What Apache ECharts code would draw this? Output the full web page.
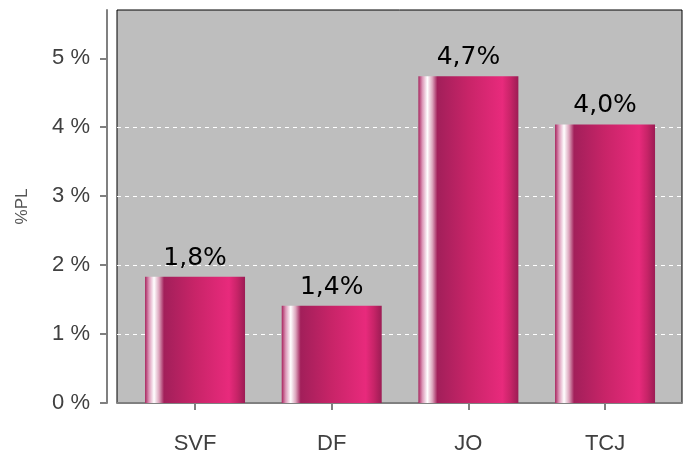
<!DOCTYPE html>
<html>
<head>
<meta charset="utf-8">
<script src="https://cdn.jsdelivr.net/npm/echarts@6/dist/echarts.min.js"></script>
<style>
  html, body { margin: 0; padding: 0; background: #fff; }
  #chart { width: 691px; height: 455px; }
</style>
</head>
<body>
<div id="chart"></div>
<script>
var categories = ['SVF', 'DF', 'JO', 'TCJ'];
var values = [1.83, 1.41, 4.74, 4.04];
var yTicks = [0, 1, 2, 3, 4, 5];

var chart = echarts.init(document.getElementById('chart'), null, { renderer: 'canvas' });

// horizontal shading: white highlight on the left, bright pink on the right
var barColor = new echarts.graphic.LinearGradient(0, 0, 1, 0, [
  { offset: 0, color: '#a8245e' },
  { offset: 0.04, color: '#dc98b8' },
  { offset: 0.09, color: '#ffffff' },
  { offset: 0.14, color: '#dca4bc' },
  { offset: 0.19, color: '#a21f5a' },
  { offset: 0.5, color: '#c82468' },
  { offset: 0.84, color: '#e82a7c' },
  { offset: 0.92, color: '#c82468' },
  { offset: 1, color: '#9c1c54' }
]);

var option = {
  animation: false,
  grid: {
    show: true,
    left: 117,
    right: 9,
    top: 10,
    bottom: 52,
    backgroundColor: '#bebebe',
    borderColor: '#000',
    borderWidth: 1
  },
  xAxis: {
    type: 'value',
    min: 0.429,
    max: 4.563,
    offset: 10,
    axisLine: { show: true, lineStyle: { color: '#808080', width: 2 } },
    axisTick: { show: true, length: 7, customValues: [1, 2, 3, 4], lineStyle: { color: '#808080', width: 2 } },
    axisLabel: {
      customValues: [1, 2, 3, 4],
      margin: 20,
      fontFamily: 'Liberation Sans',
      fontSize: 22,
      color: '#404040',
      formatter: function (v) { return categories[Math.round(v) - 1]; }
    },
    splitLine: { show: false }
  },
  yAxis: {
    type: 'value',
    min: 0,
    max: 5.7,
    interval: 1,
    offset: 10,
    name: '%PL',
    nameLocation: 'middle',
    nameGap: 76,
    nameTextStyle: { fontFamily: 'Liberation Sans', fontSize: 17, color: '#555' },
    axisLine: { show: true, lineStyle: { color: '#808080', width: 2 } },
    axisTick: { show: true, length: 7, customValues: yTicks, lineStyle: { color: '#808080', width: 2 } },
    axisLabel: {
      customValues: yTicks,
      margin: 17,
      fontFamily: 'Liberation Sans',
      fontSize: 22,
      color: '#404040',
      formatter: function (v) { return v + ' %'; }
    },
    splitLine: {
      show: true,
      showMinLine: false,
      showMaxLine: false,
      lineStyle: { color: '#ffffff', type: [4, 4], width: 1 }
    }
  },
  series: [{
    type: 'bar',
    barWidth: 100,
    data: values.map(function (v, i) { return [i + 1, v]; }),
    itemStyle: { color: barColor },
    label: {
      show: true,
      position: 'top',
      distance: 6,
      fontFamily: 'DejaVu Sans',
      fontSize: 25,
      color: '#000',
      formatter: function (p) { return p.value[1].toFixed(1).replace('.', ',') + '%'; }
    }
  }]
};

chart.setOption(option);
</script>
</body>
</html>
